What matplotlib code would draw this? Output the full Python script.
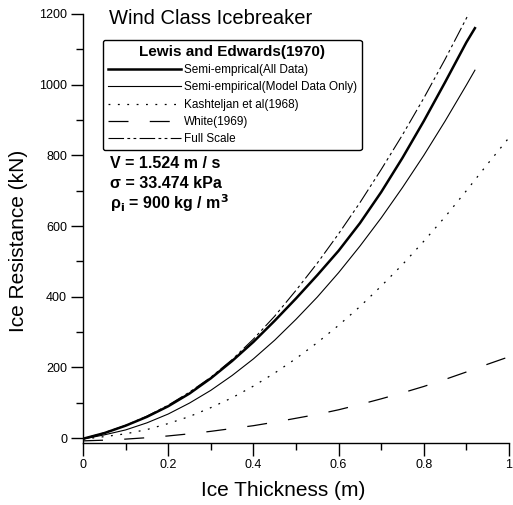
import matplotlib
matplotlib.use("Agg")
import matplotlib.pyplot as plt
from matplotlib.ticker import MultipleLocator

plt.rcParams['font.family'] = ['Liberation Sans', 'DejaVu Sans']
plt.rcParams['mathtext.fontset'] = 'custom'
plt.rcParams['mathtext.rm'] = 'Liberation Sans'

# Ice thickness (m)
thickness = [0.0, 0.05, 0.10, 0.15, 0.20, 0.25, 0.30, 0.35, 0.40, 0.45,
             0.50, 0.55, 0.60, 0.65, 0.70, 0.75, 0.80, 0.85, 0.90]

# Ice resistance (kN) for each method
semi_all = [-2, 14, 35, 60, 90, 126, 169, 218, 272, 332,
            395, 461, 530, 608, 696, 793, 897, 1007, 1120]
semi_all_end = (0.92, 1160)

semi_model = [-3, 9, 23, 43, 68, 99, 135, 177, 224, 277,
              336, 399, 468, 543, 623, 709, 800, 897, 999]
semi_model_end = (0.92, 1041)

kash_thickness = [0.0, 0.05, 0.10, 0.15, 0.20, 0.25, 0.30, 0.35, 0.40, 0.45, 0.50,
                  0.55, 0.60, 0.65, 0.70, 0.75, 0.80, 0.85, 0.90, 0.95, 1.00]
kashteljan = [-3, 4, 12, 24, 41, 61, 86, 114, 147, 184, 225,
              270, 319, 372, 430, 491, 557, 626, 700, 776, 850]

white = [-8, -6, -3, 1, 6, 12, 19, 27, 35, 45, 56,
         67, 80, 95, 111, 128, 146, 166, 187, 209, 230]

full_scale = [-2, 15, 36, 62, 93, 130, 172, 222, 280, 345,
              418, 495, 578, 666, 760, 858, 962, 1072, 1188]
full_scale_end = (0.905, 1200)

legend_labels = ["Semi-emprical(All Data)",
                 "Semi-empirical(Model Data Only)",
                 "Kashteljan et al(1968)",
                 "White(1969)",
                 "Full Scale"]

fig = plt.figure(figsize=(5.13, 5.05), dpi=100)
ax = fig.add_axes([83 / 513, 62 / 505, 426 / 513, 429 / 505])

ax.plot(thickness + [semi_all_end[0]], semi_all + [semi_all_end[1]],
        color='black', lw=1.8, label=legend_labels[0])
ax.plot(thickness + [semi_model_end[0]], semi_model + [semi_model_end[1]],
        color='black', lw=0.8, label=legend_labels[1])
ax.plot(kash_thickness, kashteljan, color='black', lw=0.9,
        linestyle=(0, (1.5, 6)), label=legend_labels[2])
ax.plot(kash_thickness, white, color='black', lw=0.9,
        linestyle=(0, (16, 17)), label=legend_labels[3])
ax.plot(thickness + [full_scale_end[0]], full_scale + [full_scale_end[1]],
        color='black', lw=0.8, linestyle=(0, (14, 3, 2.5, 3, 2.5, 3)),
        label=legend_labels[4])

ax.set_xlim(0, 1)
ax.set_ylim(-14, 1200)
for side in ('top', 'right'):
    ax.spines[side].set_visible(False)
for side in ('left', 'bottom'):
    ax.spines[side].set_linewidth(1.0)

ax.xaxis.set_minor_locator(MultipleLocator(0.1))
ax.yaxis.set_major_locator(MultipleLocator(200))
ax.yaxis.set_minor_locator(MultipleLocator(100))
ax.set_xticks([0, 0.2, 0.4, 0.6, 0.8, 1.0])
ax.set_xticklabels(['0', '0.2', '0.4', '0.6', '0.8', '1'])
ax.tick_params(which='major', direction='out', length=9, width=1.0,
               labelsize=9, pad=2.5)
ax.tick_params(which='minor', direction='out', length=5, width=1.0)

ax.set_xlabel('Ice Thickness (m)', fontsize=15)
ax.set_ylabel('Ice Resistance (kN)', fontsize=15)
ax.xaxis.set_label_coords(0.47, -0.088)
ax.yaxis.set_label_coords(-0.128, 0.47)

fig.text(109 / 513, 1 - 19 / 505, 'Wind Class Icebreaker', fontsize=14.5,
         ha='left', va='center')

leg = ax.legend(loc='upper left', bbox_to_anchor=(103 / 513, 1 - 40 / 505),
                bbox_transform=fig.transFigure, fontsize=8.5,
                title='Lewis and Edwards(1970)',
                title_fontproperties={'size': 11, 'weight': 'bold'},
                frameon=True, fancybox=True, edgecolor='black',
                handlelength=6.2, handletextpad=0.25, labelspacing=0.45,
                borderpad=0.4, borderaxespad=0)
leg.get_frame().set_linewidth(1.0)
leg.get_frame().set_alpha(1)

fig.text(110 / 513, 1 - 163 / 505, 'V = 1.524 m / s', fontsize=11.5,
         fontweight='bold', ha='left', va='center')
fig.text(110 / 513, 1 - 183 / 505, 'σ = 33.474 kPa', fontsize=11.5,
         fontweight='bold', ha='left', va='center')
fig.text(110 / 513, 1 - 203 / 505,
         r'ρ$_\mathbf{i}$ = 900 kg / m$^\mathbf{3}$',
         fontsize=11.5, fontweight='bold', ha='left', va='center')

fig.savefig('out.png', dpi=100)
